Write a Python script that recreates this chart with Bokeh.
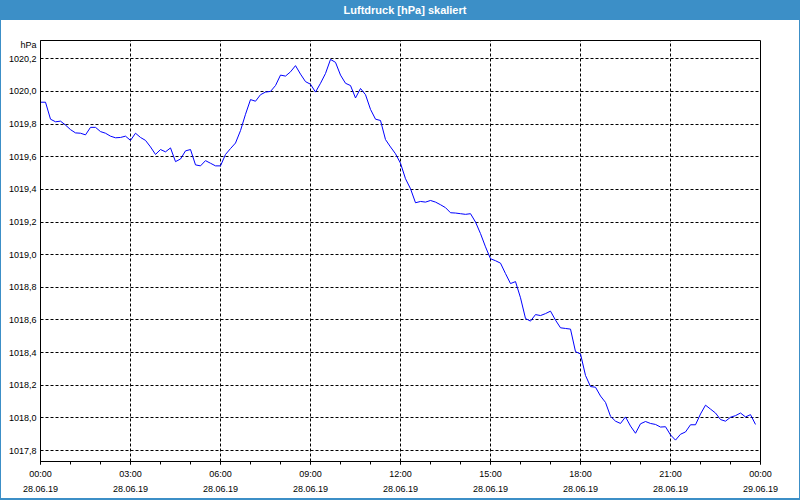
from bokeh.plotting import figure
from bokeh.models import (FixedTicker, CustomJSTickFormatter, LinearAxis, Range1d,
                          ColumnDataSource, Div)
from bokeh.layouts import column, row
from bokeh.embed import file_html
from bokeh.resources import INLINE

# Luftdruck in hPa, 10-minute readings from 28.06.19 00:00
pressure = [
    1019.934, 1019.934, 1019.830, 1019.814, 1019.818, 1019.794,  # 00
    1019.766, 1019.746, 1019.744, 1019.734, 1019.780, 1019.780,  # 01
    1019.754, 1019.744, 1019.726, 1019.716, 1019.718, 1019.726,  # 02
    1019.700, 1019.744, 1019.718, 1019.700, 1019.660, 1019.614,  # 03
    1019.644, 1019.630, 1019.654, 1019.570, 1019.586, 1019.636,  # 04
    1019.644, 1019.550, 1019.544, 1019.576, 1019.560, 1019.544,  # 05
    1019.544, 1019.614, 1019.650, 1019.684, 1019.760, 1019.860,  # 06
    1019.950, 1019.940, 1019.980, 1019.996, 1020.000, 1020.036,  # 07
    1020.100, 1020.094, 1020.120, 1020.158, 1020.106, 1020.060,  # 08
    1020.044, 1019.996, 1020.050, 1020.110, 1020.196, 1020.178,  # 09
    1020.100, 1020.050, 1020.036, 1019.960, 1020.018, 1019.980,  # 10
    1019.890, 1019.830, 1019.822, 1019.705, 1019.660, 1019.618,  # 11
    1019.560, 1019.465, 1019.404, 1019.318, 1019.326, 1019.322,  # 12
    1019.332, 1019.322, 1019.306, 1019.288, 1019.257, 1019.255,  # 13
    1019.251, 1019.247, 1019.251, 1019.200, 1019.129, 1019.048,  # 14
    1018.975, 1018.963, 1018.948, 1018.884, 1018.823, 1018.835,  # 15
    1018.736, 1018.609, 1018.593, 1018.633, 1018.627, 1018.639,  # 16
    1018.654, 1018.599, 1018.552, 1018.548, 1018.544, 1018.406,  # 17
    1018.392, 1018.260, 1018.192, 1018.188, 1018.134, 1018.095,  # 18
    1018.010, 1017.980, 1017.966, 1018.006, 1017.950, 1017.906,  # 19
    1017.964, 1017.978, 1017.966, 1017.960, 1017.944, 1017.946,  # 20
    1017.896, 1017.864, 1017.900, 1017.914, 1017.958, 1017.958,  # 21
    1018.024, 1018.078, 1018.054, 1018.030, 1017.990, 1017.980,  # 22
    1018.004, 1018.014, 1018.030, 1018.006, 1018.020, 1017.960,  # 23
]
hours = [i / 6 for i in range(len(pressure))]

x_ticks = [0, 3, 6, 9, 12, 15, 18, 21, 24]
time_labels = ["00:00", "03:00", "06:00", "09:00", "12:00", "15:00", "18:00", "21:00", "00:00"]
date_labels = ["28.06.19"] * 8 + ["29.06.19"]
minor_x = list(range(25))
y_ticks = [1017.8, 1018.0, 1018.2, 1018.4, 1018.6, 1018.8, 1019.0, 1019.2,
           1019.4, 1019.6, 1019.8, 1020.0, 1020.2]
unit_tick = 1020.283  # position of the unit caption at the top of the y axis

title_text = "Luftdruck [hPa] skaliert"
unit_text = "hPa"

FONT = "Liberation Sans"
BLUE = "#3c8fc7"

p = figure(width=798, height=478, output_backend="svg", toolbar_location=None,
           x_range=Range1d(0, 24), y_range=Range1d(1017.733, 1020.312),
           x_axis_location=None, y_axis_location=None,
           min_border_left=39, min_border_right=39, min_border_top=20,
           min_border_bottom=37)
p.background_fill_color = "white"
p.border_fill_color = "white"
p.outline_line_color = "black"
p.outline_line_width = 1

src = ColumnDataSource(dict(h=hours, p=pressure))
p.line("h", "p", source=src, line_color="#0000ff", line_width=1)

# x axis: times
xa = LinearAxis(ticker=FixedTicker(ticks=x_ticks, minor_ticks=minor_x),
                major_label_overrides={t: l for t, l in zip(x_ticks, time_labels)})
xa.axis_line_color = "black"
xa.major_tick_out = 3
xa.major_tick_in = 0
xa.minor_tick_out = 3
xa.minor_tick_in = 0
xa.major_tick_line_color = "black"
xa.minor_tick_line_color = "black"
xa.major_label_standoff = 4
xa.major_label_text_font = FONT
xa.major_label_text_font_size = "9px"
xa.major_label_text_color = "black"
p.add_layout(xa, "below")

# second x axis: dates
xd = LinearAxis(ticker=FixedTicker(ticks=x_ticks, minor_ticks=[]),
                major_label_overrides={t: l for t, l in zip(x_ticks, date_labels)})
xd.axis_line_color = None
xd.major_tick_line_color = None
xd.minor_tick_line_color = None
xd.major_tick_out = 0
xd.major_tick_in = 0
xd.minor_tick_out = 0
xd.minor_tick_in = 0
xd.major_label_standoff = 4
xd.major_label_text_font = FONT
xd.major_label_text_font_size = "9px"
xd.major_label_text_color = "black"
p.add_layout(xd, "below")

# y axis (with unit caption as topmost label)
ya = LinearAxis(ticker=FixedTicker(ticks=y_ticks + [unit_tick], minor_ticks=[]),
                formatter=CustomJSTickFormatter(
                    args=dict(unit=unit_text, ut=unit_tick),
                    code="if (Math.abs(tick - ut) < 0.01) { return unit; } "
                         "return tick.toFixed(1).replace('.', ',');"))
ya.axis_line_color = "black"
ya.major_tick_out = 0
ya.major_tick_in = 0
ya.minor_tick_out = 0
ya.minor_tick_in = 0
ya.major_label_standoff = 4
ya.major_label_text_font = FONT
ya.major_label_text_font_size = "9px"
ya.major_label_text_color = "black"
p.add_layout(ya, "left")

p.xgrid.ticker = FixedTicker(ticks=x_ticks)
p.ygrid.ticker = FixedTicker(ticks=y_ticks)
for g in (p.xgrid, p.ygrid):
    g.grid_line_color = "black"
    g.grid_line_dash = "3 2"
    g.grid_line_width = 1

bar = Div(text=title_text, width=800, height=20,
          styles={"background-color": BLUE, "color": "white", "font-weight": "bold",
                  "font-family": FONT, "font-size": "11px", "text-align": "center",
                  "line-height": "20px", "margin": "0", "padding": "0 0 0 10px",
                  "box-sizing": "border-box"})
edge_l = Div(text="", width=1, height=478, styles={"background-color": BLUE, "margin": "0"})
edge_r = Div(text="", width=1, height=478, styles={"background-color": BLUE, "margin": "0"})
edge_b = Div(text="", width=800, height=2, styles={"background-color": BLUE, "margin": "0"})

layout = column(bar, row(edge_l, p, edge_r, spacing=0), edge_b, spacing=0)

open("out.html", "w").write(file_html(layout, INLINE))
